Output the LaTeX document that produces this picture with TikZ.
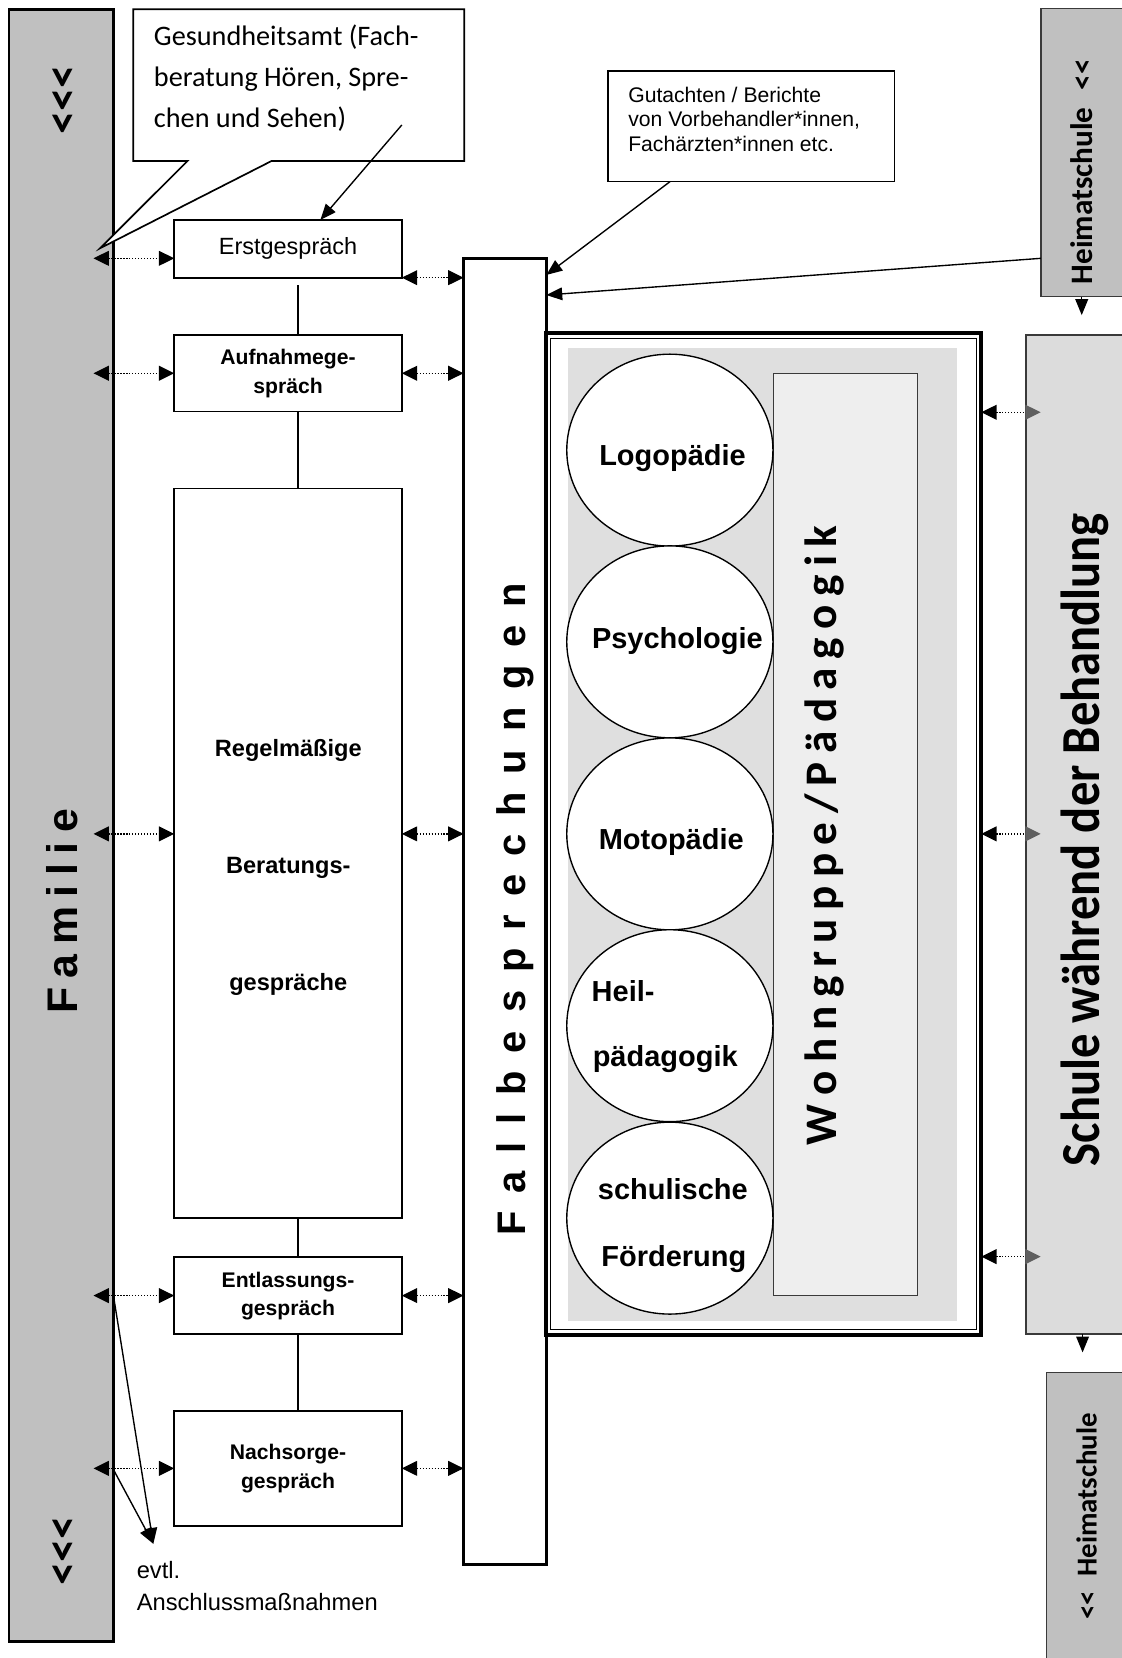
\documentclass[tikz,border=0pt]{standalone}
\usepackage{graphicx}
\usepackage{fontspec}
\setmainfont{Liberation Sans}
\newfontfamily\calfont{Carlito}
\usetikzlibrary{arrows.meta,shapes.geometric,calc}
\definecolor{famgray}{HTML}{C0C0C0}
\definecolor{schgray}{HTML}{DCDCDC}
\definecolor{panelgray}{HTML}{DFDFDF}
\definecolor{wohngray}{HTML}{EEEEEE}
\definecolor{tipgray}{HTML}{5F5F5F}
\definecolor{edgegray}{HTML}{3A3A3A}
\newcommand\fsz[2]{\fontsize{#1}{#2}\selectfont}
\makeatletter
\newcommand\spacedtext[2]{\def\sp@gap{#1}\sp@aux#2\relax}
\def\sp@aux#1{\ifx\relax#1\unskip\else#1\hspace{\sp@gap}\expandafter\sp@aux\fi}
\makeatother
\begin{document}
\begin{tikzpicture}[x=1pt,y=-1pt,
  every node/.style={inner sep=0pt,outer sep=0pt},
  box/.style={draw,line width=1.6pt,fill=white,align=center},
  conn/.style={line width=1.4pt},
  darr/.style={line width=1.2pt,dash pattern=on 1.2pt off 1.6pt,
    arrows={Triangle[length=14.5pt,width=14pt]-Triangle[length=14.5pt,width=14pt]}},
  garr/.style={line width=1.2pt,dash pattern=on 1.2pt off 1.6pt,
    arrows={Triangle[length=14.5pt,width=14pt]-Triangle[length=14.5pt,width=14pt,color=tipgray]}},
  sarr/.style={line width=1.3pt,arrows={-Triangle[length=15pt,width=12pt]}},
  vtext/.style={rotate=90,anchor=base},
  circ/.style={ellipse,draw,line width=1.3pt,fill=white,minimum width=195pt,minimum height=181.5pt},
  lbl/.style={anchor=base,font=\bfseries\fsz{27.4}{27.4}}
]
\useasboundingbox (0,0) rectangle (1061,1568);
\clip (0,0) rectangle (1061,1568);

% Familie bar
\node[draw,line width=2.8pt,fill=famgray,minimum width=98.9pt,minimum height=1543.6pt] (fam) at (57.95,780.6) {};
\node[vtext,font=\bfseries\fsz{40.5}{40.5}] (famtxt) at (73,862) {\spacedtext{9pt}{Familie}};
\node[vtext,font=\calfont\bfseries\fsz{44}{44}] (chevtop) at (73.5,94.5) {<<<};
\node[vtext,font=\calfont\bfseries\fsz{44}{44}] (chevbot) at (73.5,1467) {<<<};

% callout Gesundheitsamt
\draw[line width=1.6pt,fill=white] (126,8.8) -- (439,8.8) -- (439,152.3) -- (256.7,152.3)
  -- (94.6,234.8) -- (177.3,152.3) -- (126,152.3) -- cycle;
\node[anchor=base west,align=left,font=\calfont\fsz{26.7}{38.6}] (ges) at (145.6,120.4)
  {Gesundheitsamt (Fach-\\beratung Hören, Spre-\\chen und Sehen)};
\coordinate (gesa) at (380,118.2);

% left column boxes
\node[box,minimum width=215.2pt,minimum height=54.6pt,font=\fsz{22.2}{26}] (erst) at (272.4,235.3) {Erstgespräch};
\node[box,minimum width=215.2pt,minimum height=72.5pt,font=\bfseries\fsz{20}{27}] (aufn) at (272.4,353) {Aufnahmege-\\spräch};
\node[box,minimum width=215.2pt,minimum height=690pt] (regel) at (272.4,807) {};
\node[align=center,font=\bfseries\fsz{22.3}{110.6}] (regeltxt) at (272.6,820.5) {Regelmäßige\\Beratungs-\\gespräche};
\node[box,minimum width=215.2pt,minimum height=72.5pt,font=\bfseries\fsz{20}{26.5}] (entl) at (272.4,1225.25) {Entlassungs-\\gespräch};
\node[box,minimum width=215.2pt,minimum height=108.7pt,font=\bfseries\fsz{20}{27}] (nach) at (272.4,1388.65) {Nachsorge-\\gespräch};

\draw[conn] ($(erst.south -| 282,0)+(0,7)$) -- (aufn.north -| 282,0);
\draw[conn] (aufn.south -| 282,0) -- (regel.north -| 282,0);
\draw[conn] (regel.south -| 282,0) -- (entl.north -| 282,0);
\draw[conn] (entl.south -| 282,0) -- (nach.north -| 282,0);

% Fallbesprechungen
\node[draw,line width=2.8pt,fill=white,minimum width=78.3pt,minimum height=1235.7pt] (fall) at (477.55,862.15) {};
\node[vtext,font=\bfseries\fsz{37.7}{37.7}] (falltxt) at (497,860) {\spacedtext{17pt}{Fallbesprechungen}};

% Gutachten
\node[draw,line width=1.5pt,fill=white,minimum width=271.1pt,minimum height=104.7pt] (gut) at (710.35,119.45) {};
\node[anchor=base west,align=left,font=\fsz{20}{23}] (guttxt) at (594.2,143)
  {Gutachten / Berichte\\von Vorbehandler*innen,\\Fachärzten*innen etc.};

% big framed box
\node[draw,line width=3.6pt,fill=white,minimum width=411.5pt,minimum height=947.5pt] (big) at (722.25,788.75) {};
\node[draw,line width=1.2pt,minimum width=402.4pt,minimum height=937.3pt] (bigin) at (722,788.85) {};
\node[fill=panelgray,minimum width=368pt,minimum height=919.6pt] (panel) at (721,789.2) {};
\node[draw=edgegray,line width=1.2pt,fill=wohngray,minimum width=136.8pt,minimum height=872.5pt] (wohn) at (799.6,789.25) {};
\node[vtext,font=\calfont\bfseries\fsz{42.7}{42.7}] (wohntxt) at (791,790) {\spacedtext{8pt}{Wohngruppe/Pädagogik}};

\node[circ] (c1) at (633.5,425.7) {};
\node[circ] (c2) at (633.5,607) {};
\node[circ] (c3) at (633.5,788.6) {};
\node[circ] (c4) at (633.5,970) {};
\node[circ] (c5) at (633.5,1152) {};
\node[lbl] (t1) at (636,440) {Logopädie};
\node[lbl] (t2) at (640.6,613) {Psychologie};
\node[lbl] (t3) at (634.8,803) {Motopädie};
\node[lbl,anchor=base west] (t4a) at (559.6,947.2) {Heil-};
\node[lbl,anchor=base west] (t4b) at (560.6,1008.7) {pädagogik};
\node[lbl] (t5a) at (636.3,1134.8) {schulische};
\node[lbl] (t5b) at (637.3,1197.8) {Förderung};

% right column
\node[draw=edgegray,line width=1.4pt,fill=famgray,minimum width=90pt,minimum height=272.6pt,anchor=north west] (htop) at (984.4,7.9) {};
\node[vtext,font=\calfont\bfseries\fsz{29.5}{29.5}] (htoptxt) at (1033.3,162.3) {Heimatschule\hspace{0.55em}<<};
\node[draw=edgegray,line width=1.3pt,fill=schgray,minimum width=100pt,minimum height=944.7pt,anchor=north west] (schule) at (970.2,316.8) {};
\node[vtext,font=\calfont\bfseries\fsz{52}{52}] (schtxt) at (1040.2,794) {\scalebox{0.884}[1]{Schule während der Behandlung}};
\node[draw=edgegray,line width=1.4pt,fill=famgray,minimum width=90pt,minimum height=300pt,anchor=north west] (hbot) at (989.8,1298) {};
\node[vtext,font=\calfont\bfseries\fsz{27.3}{27.3}] (hbottxt) at (1037.1,1434) {<<\hspace{0.5em}Heimatschule};

% arrows left
\draw[darr] ($(fam.east |- 0,244.3)+(-19,0)$) -- (erst.west |- 0,244.3);
\draw[darr] ($(fam.east |- aufn.west)+(-19,0)$) -- (aufn.west);
\draw[darr] ($(fam.east |- 0,788.6)+(-19,0)$) -- (regel.west |- 0,788.6);
\draw[darr] ($(fam.east |- entl.west)+(-19,0)$) -- (entl.west);
\draw[darr] ($(fam.east |- nach.west)+(-19,0)$) -- (nach.west);
% arrows to Fallbesprechungen
\draw[darr] (erst.east |- 0,262.6) -- (fall.west |- 0,262.6);
\draw[darr] (aufn.east) -- (fall.west |- aufn.east);
\draw[darr] (regel.east |- 0,788.6) -- (fall.west |- 0,788.6);
\draw[darr] (entl.east) -- (fall.west |- entl.east);
\draw[darr] (nach.east) -- (fall.west |- nach.east);
% arrows to Schule
\draw[garr] (big.east |- 0,389.9) -- ($(schule.west |- 0,389.9)+(14,0)$);
\draw[garr] (big.east |- 0,788.6) -- ($(schule.west |- 0,788.6)+(14,0)$);
\draw[garr] (big.east |- 0,1188.4) -- ($(schule.west |- 0,1188.4)+(14,0)$);

% solid arrows
\draw[sarr] (gesa) -- (erst.north -| 303,0);
\draw[sarr] (gut.south -| 633.6,0) -- (fall.east |- 0,260);
\draw[sarr] (htop.west |- 0,244.3) -- (fall.east |- 0,279);
\draw[sarr] (htop.south -| 1023,0) -- ($(htop.south -| 1023,0)+(0,17.5)$);
\draw[sarr] (schule.south -| 1023.8,0) -- ($(schule.south -| 1023.8,0)+(0,17.5)$);
\coordinate (evt) at (145,1460);
\draw[sarr] (fam.east |- 0,1226) -- (evt);
\draw[sarr] (fam.east |- 0,1390) -- (evt);
\node[anchor=base west,align=left,font=\fsz{22.4}{30}] (evtl) at (129.4,1522.6) {evtl.\\Anschlussmaßnahmen};
\end{tikzpicture}
\end{document}
